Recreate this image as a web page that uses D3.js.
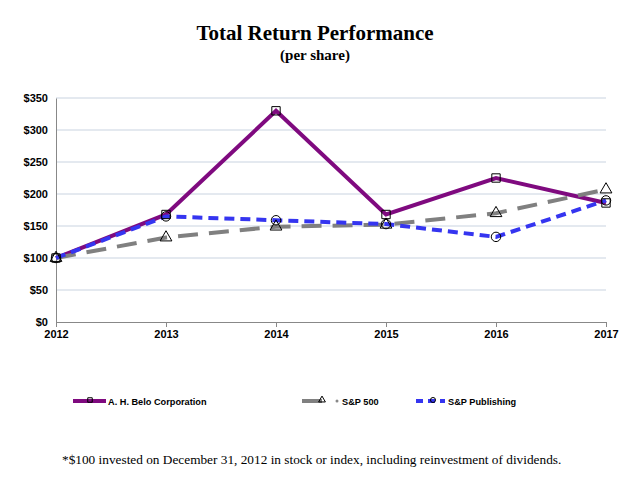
<!DOCTYPE html>
<html><head><meta charset="utf-8">
<script src="https://cdn.jsdelivr.net/npm/d3@7"></script>
<style>body{margin:0;background:#fff}svg{display:block}</style>
</head><body>
<svg id="c" width="644" height="480"></svg>
<script>
const years = ["2012","2013","2014","2015","2016","2017"];
const belo = [100, 168, 330, 168, 225, 186];
const sp500 = [100, 132, 149, 152, 170, 207];
const spPub = [100, 165, 159, 153, 133, 190];
const yTicks = [0,50,100,150,200,250,300,350];
const seriesNames = ["A. H. Belo Corporation","S&P 500","S&P Publishing"];

const svg = d3.select("#c");
const x = d3.scalePoint().domain(years).range([56,606]);
const y = d3.scaleLinear().domain([0,350]).range([322,98]);

svg.append("text").attr("x",315).attr("y",40).attr("text-anchor","middle")
  .attr("font-family","Liberation Serif, Times New Roman, serif").attr("font-weight","bold")
  .attr("font-size",21).text("Total Return Performance");
svg.append("text").attr("x",315).attr("y",60).attr("text-anchor","middle")
  .attr("font-family","Liberation Serif, Times New Roman, serif").attr("font-weight","bold")
  .attr("font-size",15).text("(per share)");

// gridlines
svg.append("g").selectAll("line").data(yTicks.filter(d=>d>0)).join("line")
  .attr("x1",56).attr("x2",606).attr("y1",d=>y(d)).attr("y2",d=>y(d))
  .attr("stroke","#c9d3e0").attr("stroke-width",1);

const yAxis = svg.append("g").attr("transform","translate(56,0)")
  .call(d3.axisLeft(y).tickValues(yTicks).tickSize(0).tickPadding(8).tickFormat(d=>"$"+d));
yAxis.select(".domain").attr("stroke","#888");
yAxis.selectAll("text").attr("font-family","Liberation Sans, Arial, sans-serif").attr("font-weight","bold").attr("font-size",11).attr("fill","#000");

const xAxis = svg.append("g").attr("transform","translate(0,322)")
  .call(d3.axisBottom(x).tickSize(5).tickSizeOuter(0).tickPadding(3));
xAxis.select(".domain").attr("stroke","#888");
xAxis.selectAll(".tick line").attr("stroke","#888");
xAxis.selectAll("text").attr("font-family","Liberation Sans, Arial, sans-serif").attr("font-weight","bold").attr("font-size",11).attr("fill","#000");

const series = [
  {name:seriesNames[0], vals:belo, color:"#7f0a7f", dash:null, marker:"square"},
  {name:seriesNames[1], vals:sp500, color:"#808080", dash:"20,11", marker:"triangle"},
  {name:seriesNames[2], vals:spPub, color:"#3535f0", dash:"10,6", marker:"circle"}
];
const line = d3.line().x((d,i)=>x(years[i])).y(d=>y(d));
const sym = {square:d3.symbolSquare, triangle:d3.symbolTriangle, circle:d3.symbolCircle};

series.forEach(s=>{
  svg.append("path").datum(s.vals).attr("d",line).attr("fill","none")
    .attr("stroke",s.color).attr("stroke-width",4).attr("stroke-dasharray",s.dash);
});
series.forEach(s=>{
  svg.append("g").selectAll("path").data(s.vals).join("path")
    .attr("transform",(d,i)=>`translate(${x(years[i])},${y(d)})`)
    .attr("d",d3.symbol().type(sym[s.marker]).size(s.marker==="triangle"?60:70))
    .attr("fill","none").attr("stroke","#000").attr("stroke-width",1);
});

// legend
const lg = [{x:73,w:33,tx:108},{x:302,w:29,tx:342},{x:416,w:29,tx:448}];
series.forEach((s,i)=>{
  const g = svg.append("g");
  const L = lg[i];
  g.append("line").attr("x1",L.x).attr("x2",L.x+L.w).attr("y1",401).attr("y2",401)
    .attr("stroke",s.color).attr("stroke-width",4).attr("stroke-dasharray",s.dash?(i===1?"20,11":"7,5"):null);
  g.append("path").attr("transform",`translate(${L.x+(i===1?20:17)},400)`)
    .attr("d",d3.symbol().type(sym[s.marker]).size(20))
    .attr("fill","none").attr("stroke","#000").attr("stroke-width",1);
  if(i===1) g.append("circle").attr("cx",337).attr("cy",401).attr("r",1.5).attr("fill","#888");
  g.append("text").attr("x",L.tx).attr("y",405).attr("font-family","Liberation Sans, Arial, sans-serif")
    .attr("font-weight","bold").attr("font-size",9.2).text(s.name);
});

svg.append("text").attr("x",62).attr("y",464)
  .attr("font-family","Liberation Serif, Times New Roman, serif").attr("font-size",13.3)
  .text("*$100 invested on December 31, 2012 in stock or index, including reinvestment of dividends.");
</script>
</body></html>
